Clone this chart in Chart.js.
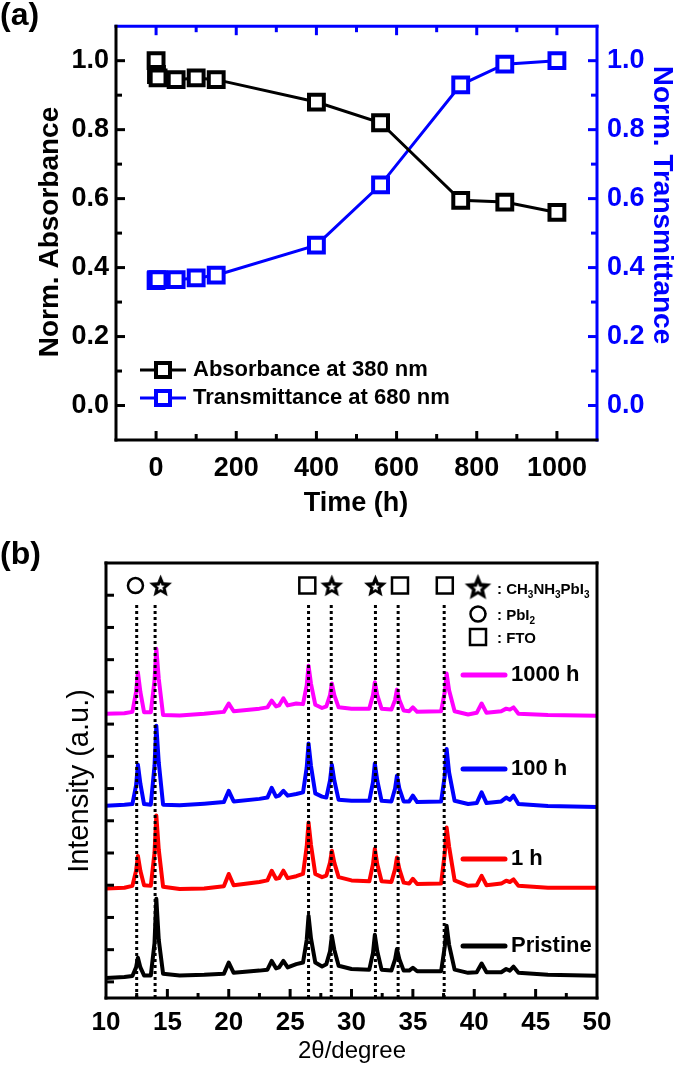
<!DOCTYPE html>
<html lang="en">
<head>
<meta charset="UTF-8" />
<title>Perovskite film stability</title>
<script src="https://cdn.jsdelivr.net/npm/chart.js"></script>
<style>
  html, body { margin: 0; padding: 0; background: #fff; }
  canvas { position: absolute; left: 0; }
  #panelA { top: 0; }
  #panelB { top: 530px; }
</style>
</head>
<body>
<canvas id="panelA" width="675" height="530"></canvas>
<canvas id="panelB" width="675" height="536"></canvas>

<script>
// ---- (a) normalised absorbance / transmittance vs ageing time ----
const hours            = [0, 1, 5, 50, 100, 150, 400, 560, 760, 870, 1000];
const absorbance380    = [1.0, 0.96, 0.95, 0.945, 0.95, 0.945, 0.88, 0.82, 0.595, 0.59, 0.56];
const transmittance680 = [0.362, 0.365, 0.365, 0.365, 0.37, 0.378, 0.465, 0.64, 0.93, 0.99, 1.0];

// ---- (b) XRD patterns (offset for clarity) ----
const twoTheta = [10, 11.5, 12.15, 12.45, 12.6, 12.8, 13.1, 13.65, 13.95, 14.1,
  14.3, 14.65, 16, 18, 19.6, 20.0, 20.4, 22.5, 23.15, 23.5,
  23.85, 24.1, 24.45, 24.8, 25.5, 26.05, 26.35, 26.5, 26.7, 27.05,
  27.6, 27.95, 28.25, 28.4, 28.6, 28.95, 30, 31.45, 31.75, 31.9,
  32.1, 32.45, 33.25, 33.55, 33.7, 33.9, 34.25, 34.7, 35.0, 35.35,
  37.3, 37.6, 37.75, 37.95, 38.4, 39.5, 40.2, 40.6, 41.0, 42.2,
  42.6, 42.9, 43.2, 43.6, 46, 50];
const xrdPristine = [0.12, 0.15, 0.18, 0.45, 0.75, 0.45, 0.2, 0.2, 1.2, 2.58,
  1.3, 0.25, 0.2, 0.22, 0.25, 0.6, 0.28, 0.35, 0.38, 0.65,
  0.42, 0.45, 0.65, 0.45, 0.55, 0.6, 1.3, 2.05, 1.35, 0.6,
  0.48, 0.55, 0.95, 1.43, 1.0, 0.5, 0.4, 0.38, 0.9, 1.46,
  0.95, 0.38, 0.35, 0.7, 1.02, 0.7, 0.35, 0.35, 0.44, 0.33,
  0.33, 1.1, 1.74, 1.15, 0.38, 0.28, 0.3, 0.57, 0.3, 0.3,
  0.4, 0.35, 0.47, 0.28, 0.22, 0.19];
const xrd1h = [2.9, 2.92, 2.98, 3.45, 3.91, 3.45, 3.0, 2.98, 4.0, 5.16,
  4.1, 2.95, 2.88, 2.9, 2.97, 3.35, 3.0, 3.1, 3.15, 3.45,
  3.2, 3.22, 3.45, 3.22, 3.28, 3.35, 4.2, 4.95, 4.25, 3.35,
  3.25, 3.3, 3.7, 4.07, 3.7, 3.25, 3.15, 3.12, 3.65, 4.13,
  3.65, 3.12, 3.1, 3.5, 3.86, 3.5, 3.08, 3.05, 3.2, 3.04,
  3.05, 4.0, 4.79, 4.2, 3.15, 2.98, 3.0, 3.29, 3.0, 3.05,
  3.14, 3.1, 3.18, 2.98, 2.92, 2.92];
const xrd100h = [5.47, 5.5, 5.52, 6.1, 6.74, 6.15, 5.52, 5.5, 6.7, 7.95,
  6.8, 5.5, 5.48, 5.53, 5.58, 5.93, 5.6, 5.68, 5.72, 6.02,
  5.75, 5.78, 5.93, 5.78, 5.83, 5.88, 6.65, 7.40, 6.7, 5.85,
  5.75, 5.72, 6.25, 6.74, 6.25, 5.65, 5.62, 5.62, 6.2, 6.78,
  6.25, 5.62, 5.6, 6.0, 6.40, 6.0, 5.6, 5.6, 5.78, 5.58,
  5.6, 6.4, 7.23, 6.5, 5.62, 5.52, 5.55, 5.88, 5.55, 5.6,
  5.72, 5.65, 5.78, 5.52, 5.46, 5.43];
const xrd1000h = [8.32, 8.34, 8.38, 9.0, 9.6, 9.0, 8.37, 8.37, 9.35, 10.34,
  9.4, 8.28, 8.27, 8.32, 8.38, 8.64, 8.4, 8.48, 8.52, 8.73,
  8.55, 8.58, 8.8, 8.58, 8.64, 8.62, 9.2, 9.81, 9.25, 8.6,
  8.5, 8.55, 8.9, 9.26, 8.9, 8.52, 8.48, 8.48, 8.9, 9.30,
  8.9, 8.48, 8.45, 8.75, 9.07, 8.75, 8.42, 8.4, 8.52, 8.38,
  8.4, 9.0, 9.57, 9.05, 8.4, 8.3, 8.35, 8.64, 8.35, 8.4,
  8.48, 8.45, 8.52, 8.32, 8.28, 8.26];
const refLines        = [12.5, 14.0, 26.5, 28.35, 31.95, 33.8, 37.55];
const pbi2Peaks       = [12.4];
const perovskitePeaks = [14.45, 28.4, 31.95];
const ftoPeaks        = [26.4, 33.95, 37.6];

const BLUE = '#0000ff';
const MAGENTA = '#ff00ff';
const RED = '#ff0000';
const SANS = '"Liberation Sans", Arial, sans-serif';

function seg(ctx, x1, y1, x2, y2, color, w) {
  ctx.strokeStyle = color;
  ctx.lineWidth = w || 3;
  ctx.beginPath();
  ctx.moveTo(x1, y1);
  ctx.lineTo(x2, y2);
  ctx.stroke();
}

function text(ctx, str, x, y, font, color, align, angle) {
  ctx.save();
  ctx.translate(x, y);
  if (angle) ctx.rotate(angle);
  ctx.font = font;
  ctx.fillStyle = color || '#000';
  ctx.textAlign = align || 'left';
  ctx.textBaseline = 'middle';
  ctx.fillText(str, 0, 0);
  ctx.restore();
}

function starPath(g, cx, cy, R, r) {
  g.beginPath();
  for (let i = 0; i < 10; i++) {
    const rad = i % 2 ? r : R;
    const ang = -Math.PI / 2 + i * Math.PI / 5;
    g.lineTo(cx + rad * Math.cos(ang), cy + rad * Math.sin(ang));
  }
  g.closePath();
}

function makeStar(size) {
  const c = document.createElement('canvas');
  c.width = c.height = size;
  const g = c.getContext('2d');
  const m = size / 2;
  starPath(g, m, m + 1, m - 0.5, (m - 0.5) * 0.45);
  g.fillStyle = '#000';
  g.fill();
  starPath(g, m, m + 1.5, (m - 0.5) * 0.36, (m - 0.5) * 0.16);
  g.fillStyle = '#fff';
  g.fill();
  return c;
}
const starSmall = makeStar(25);
const starBig = makeStar(29);

// ---------------- panel (a) ----------------
const frameA = {
  id: 'frameA',
  afterDraw(chart) {
    const { ctx, chartArea: a, scales } = chart;
    ctx.save();
    ctx.lineCap = 'butt';
    scales.x.ticks.forEach(t => {
      const px = scales.x.getPixelForValue(t.value);
      if (px <= a.left + 2 || px >= a.right - 2) return;
      const len = t.value % 200 === 0 ? 9 : 6;
      seg(ctx, px, a.bottom, px, a.bottom - len, '#000');
      seg(ctx, px, a.top, px, a.top + len, BLUE);
    });
    scales.y.ticks.forEach(t => {
      const py = scales.y.getPixelForValue(t.value);
      if (py <= a.top + 2 || py >= a.bottom - 2) return;
      const len = Math.round(t.value * 10) % 2 === 0 ? 9 : 6;
      seg(ctx, a.left, py, a.left + len, py, '#000');
      seg(ctx, a.right, py, a.right - len, py, BLUE);
    });
    ctx.lineCap = 'square';
    seg(ctx, a.left, a.top, a.right, a.top, BLUE);
    seg(ctx, a.right, a.top, a.right, a.bottom, BLUE);
    seg(ctx, a.left, a.top, a.left, a.bottom, '#000');
    seg(ctx, a.left, a.bottom, a.right, a.bottom, '#000');

    // legend
    const rows = [['Absorbance at 380 nm', '#000', 370], ['Transmittance at 680 nm', BLUE, 398]];
    ctx.lineCap = 'butt';
    rows.forEach(([label, col, y]) => {
      seg(ctx, 140, y, 186, y, col);
      ctx.fillStyle = '#fff';
      ctx.fillRect(156, y - 7, 14, 14);
      ctx.lineWidth = 4;
      ctx.strokeStyle = col;
      ctx.strokeRect(156, y - 7, 14, 14);
      text(ctx, label, 193, y, 'bold 22px ' + SANS, '#000');
    });

    text(ctx, 'Norm. Absorbance', 50, 232, 'bold 28px ' + SANS, '#000', 'center', -Math.PI / 2);
    text(ctx, 'Norm. Transmittance', 662, 205, 'bold 28px ' + SANS, BLUE, 'center', Math.PI / 2);
    text(ctx, 'Time (h)', 356, 504, 'bold 27px ' + SANS, '#000', 'center');
    text(ctx, '(a)', 0, 16, 'bold 32px ' + SANS, '#000', 'left');
    ctx.restore();
  }
};

const squarePoint = (col) => ({
  borderColor: col, backgroundColor: col,
  pointStyle: 'rect', pointRadius: 10.5, pointBorderWidth: 4,
  pointBorderColor: col, pointBackgroundColor: '#fff', borderWidth: 3, tension: 0
});

new Chart(document.getElementById('panelA'), {
  type: 'line',
  data: {
    datasets: [
      Object.assign({ label: 'Absorbance at 380 nm', yAxisID: 'y',
        data: hours.map((h, i) => ({ x: h, y: absorbance380[i] })) }, squarePoint('#000')),
      Object.assign({ label: 'Transmittance at 680 nm', yAxisID: 'y2',
        data: hours.map((h, i) => ({ x: h, y: transmittance680[i] })) }, squarePoint(BLUE))
    ]
  },
  options: {
    responsive: false,
    animation: false,
    layout: { padding: { top: 22, left: 0, right: 0, bottom: 0 } },
    plugins: { legend: { display: false }, tooltip: { enabled: false } },
    scales: {
      x: {
        type: 'linear', min: -100, max: 1100,
        grid: { display: false, drawTicks: false }, border: { display: false },
        ticks: {
          stepSize: 100, autoSkip: false, maxRotation: 0, padding: 12, color: '#000',
          font: { family: SANS, size: 27, weight: 'bold' },
          callback: v => (v % 200 === 0 && v >= 0 && v <= 1000) ? String(v) : ''
        },
        afterFit: s => { s.height = 90; }
      },
      y: {
        position: 'left', min: -0.1, max: 1.1,
        grid: { display: false, drawTicks: false }, border: { display: false },
        ticks: {
          stepSize: 0.1, autoSkip: false, padding: 7, color: '#000',
          font: { family: SANS, size: 27, weight: 'bold' },
          callback: v => { const r = Math.round(v * 10); return (r % 2 === 0 && r >= 0 && r <= 10) ? (r / 10).toFixed(1) : ''; }
        },
        afterFit: s => { s.width = 116; }
      },
      y2: {
        position: 'right', min: -0.1, max: 1.1,
        grid: { display: false, drawTicks: false }, border: { display: false },
        ticks: {
          stepSize: 0.1, autoSkip: false, padding: 10, color: BLUE,
          font: { family: SANS, size: 27, weight: 'bold' },
          callback: v => { const r = Math.round(v * 10); return (r % 2 === 0 && r >= 0 && r <= 10) ? (r / 10).toFixed(1) : ''; }
        },
        afterFit: s => { s.width = 78; }
      }
    }
  },
  plugins: [frameA]
});

// ---------------- panel (b) ----------------
function subText(ctx, parts, x, y) {
  let cx = x;
  parts.forEach(([s, sub]) => {
    ctx.font = (sub ? 'bold 10px ' : 'bold 15px ') + SANS;
    ctx.fillStyle = '#000';
    ctx.textBaseline = 'alphabetic';
    ctx.fillText(s, cx, sub ? y + 4 : y);
    cx += ctx.measureText(s).width;
  });
}

const frameB = {
  id: 'frameB',
  afterDraw(chart) {
    const { ctx, chartArea: a, scales } = chart;
    ctx.save();
    ctx.lineCap = 'butt';
    scales.x.ticks.forEach(t => {
      const px = scales.x.getPixelForValue(t.value);
      if (px <= a.left + 2 || px >= a.right - 2) return;
      const len = t.value % 5 === 0 ? 9 : 5;
      seg(ctx, px, a.bottom, px, a.bottom - len, '#000');
    });
    for (let v = 0; v <= 12; v++) {
      const py = scales.y.getPixelForValue(v);
      seg(ctx, a.left, py, a.left + 8, py, '#000');
    }
    ctx.lineCap = 'square';
    seg(ctx, a.left, a.top, a.right, a.top, '#000');
    seg(ctx, a.right, a.top, a.right, a.bottom, '#000');
    seg(ctx, a.left, a.top, a.left, a.bottom, '#000');
    seg(ctx, a.left, a.bottom, a.right, a.bottom, '#000');

    // phase legend
    ctx.drawImage(starBig, 478 - 14.5, 58 - 15.5);
    subText(ctx, [[': CH', 0], ['3', 1], ['NH', 0], ['3', 1], ['PbI', 0], ['3', 1]], 497, 64);
    ctx.lineWidth = 2.5;
    ctx.strokeStyle = '#000';
    ctx.fillStyle = '#fff';
    ctx.beginPath();
    ctx.arc(478, 84, 7.5, 0, Math.PI * 2);
    ctx.fill();
    ctx.stroke();
    subText(ctx, [[': PbI', 0], ['2', 1]], 497, 90);
    ctx.fillStyle = '#fff';
    ctx.lineWidth = 2.5;
    ctx.fillRect(470, 99, 16, 16);
    ctx.strokeRect(470, 99, 16, 16);
    subText(ctx, [[': FTO', 0]], 497, 113);

    // series legend
    ctx.lineCap = 'round';
    const rows = [['1000 h', MAGENTA, 145], ['100 h', BLUE, 239], ['1 h', RED, 329], ['Pristine', '#000', 416]];
    rows.forEach(([label, col, y]) => {
      seg(ctx, 463, y, 505, y, col, 5);
      text(ctx, label, 511, y, 'bold 22px ' + SANS, '#000');
    });

    text(ctx, 'Intensity (a.u.)', 80, 251, '29px ' + SANS, '#000', 'center', -Math.PI / 2);
    text(ctx, '2\u03b8/degree', 352, 521, '24px ' + SANS, '#000', 'center');
    text(ctx, '(b)', 0, 25, 'bold 32px ' + SANS, '#000', 'left');
    ctx.restore();
  }
};

const trace = (label, ys, col) => ({
  label, data: twoTheta.map((x, i) => ({ x, y: ys[i] })),
  borderColor: col, borderWidth: 4, pointRadius: 0, tension: 0, order: 2,
  borderJoinStyle: 'round'
});
const markerSet = (xs, style, radius) => ({
  data: xs.map(x => ({ x, y: 12.3 })), showLine: false, order: 0,
  pointStyle: style, pointRadius: radius, pointBorderWidth: 2.5,
  pointBorderColor: '#000', pointBackgroundColor: '#fff'
});

const datasetsB = [
  trace('1000 h', xrd1000h, MAGENTA),
  trace('100 h', xrd100h, BLUE),
  trace('1 h', xrd1h, RED),
  trace('Pristine', xrdPristine, '#000'),
  markerSet(pbi2Peaks, 'circle', 7.5),
  markerSet(perovskitePeaks, starSmall, 1),
  markerSet(ftoPeaks, 'rect', 11.3)
];
refLines.forEach(p => datasetsB.push({
  data: [{ x: p, y: -0.5 }, { x: p, y: 11.7 }], borderColor: '#000', borderWidth: 3,
  borderDash: [3, 3], pointRadius: 0, order: 1
}));

new Chart(document.getElementById('panelB'), {
  type: 'line',
  data: { datasets: datasetsB },
  options: {
    responsive: false,
    animation: false,
    layout: { padding: { top: 33, left: 0, right: 78, bottom: 0 } },
    plugins: { legend: { display: false }, tooltip: { enabled: false } },
    scales: {
      x: {
        type: 'linear', min: 10, max: 50,
        grid: { display: false, drawTicks: false }, border: { display: false },
        ticks: {
          stepSize: 2.5, autoSkip: false, maxRotation: 0, padding: 9, color: '#000',
          font: { family: SANS, size: 26, weight: 'bold' },
          callback: v => v % 5 === 0 ? String(v) : ''
        },
        afterFit: s => { s.height = 68; }
      },
      y: {
        min: -0.5, max: 13,
        grid: { display: false, drawTicks: false }, border: { display: false },
        ticks: { display: false, stepSize: 1 },
        afterFit: s => { s.width = 106; }
      }
    }
  },
  plugins: [frameB]
});
</script>
</body>
</html>
